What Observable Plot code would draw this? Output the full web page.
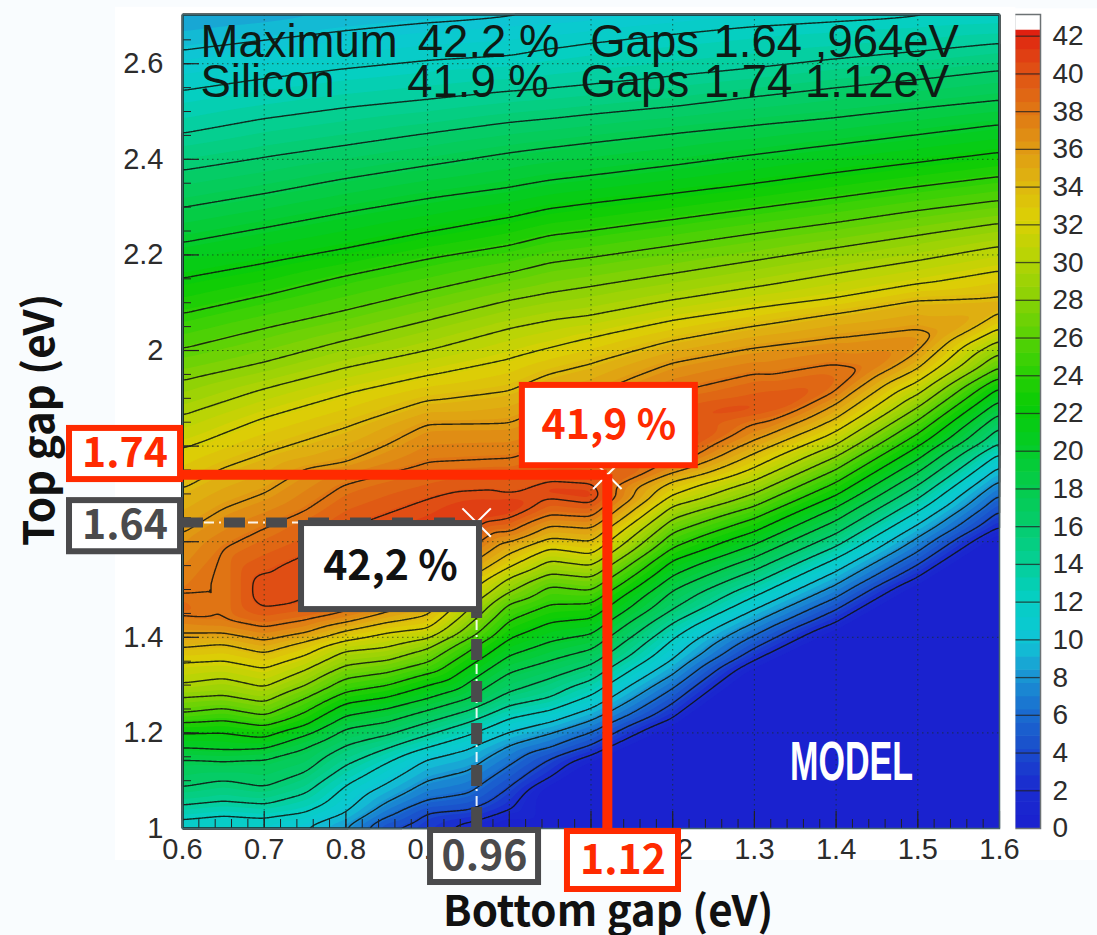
<!DOCTYPE html>
<html><head><meta charset="utf-8">
<script src="https://cdn.jsdelivr.net/npm/d3@7"></script>
<script src="https://cdn.jsdelivr.net/npm/@observablehq/plot@0.6"></script>
<style>
html,body{margin:0;padding:0;background:#f9fcfe;width:1097px;height:935px;overflow:hidden}
#chart{display:flex;width:1097px;height:935px}
svg{display:block;background:transparent!important;flex:none;overflow:visible}
svg:first-child{position:relative;z-index:1}
</style></head><body><div id="chart"></div>
<script>
// Contour crossings: top gap (eV) where each efficiency level is met.
const riseLevels=[10,12,14,16,18,20,22,24,26,28,30,32,34,36,38,40];
const fallLevels=[2,4,6,8,10,12,14,16,18,20,22,24,26,28,30,32,34,36,38,40];
const n=null;
const columnsX=[0.6,0.65,0.7,0.75,0.8,0.85,0.9,0.95,1.0,1.05,1.1,1.2,1.3,1.4,1.5,1.6];
const rise060=[2.628,2.544,2.454,2.377,2.299,2.226,2.151,2.077,2.004,1.937,1.864,1.795,1.711,1.617,1.487];
const rise065=[n,n,n,n,n,n,n,n,n,n,n,n,1.755,1.669,1.586];
const rise070=[2.649,2.569,2.485,2.404,2.328,2.257,2.182,2.115,2.046,1.975,1.920,1.860,1.785,1.701,1.628,1.536];
const rise075=[];
const rise080=[2.669,2.590,2.508,2.429,2.360,2.289,2.213,2.157,2.084,2.021,1.964,1.910,1.839,1.766,1.722,1.628];
const rise085=[];
const rise090=[2.686,2.607,2.525,2.454,2.387,2.318,2.247,2.192,2.125,2.063,2.000,1.948,1.895,1.847,1.766,1.690];
const rise095=[];
const rise100=[2.697,2.617,2.542,2.477,2.414,2.341,2.278,2.220,2.163,2.105,2.046,1.983,1.916,1.849,1.774,1.700];
const rise105=[n,2.632,2.548,2.485,2.425,2.356,2.297,2.241,2.184,2.121,2.063,2.006,1.952,1.885,1.801,1.722];
const rise110=[n,2.644,2.556,2.494,2.435,2.366,2.308,2.251,2.195,2.134,2.073,2.027,1.973,1.906,1.800,1.717];
const rise120=[n,2.663,2.573,2.510,2.454,2.387,2.328,2.274,2.220,2.161,2.105,2.063,2.021,1.975,1.912,1.849];
const rise130=[n,2.680,2.590,2.531,2.471,2.410,2.349,2.297,2.245,2.188,2.132,2.088,2.052,2.006,1.952,1.883];
const rise140=[n,2.690,2.609,2.550,2.487,2.431,2.372,2.320,2.268,2.215,2.161,2.109,2.079,2.027,1.973];
const rise150=[n,2.697,2.625,2.567,2.506,2.452,2.393,2.343,2.293,2.241,2.188,2.138,2.107,2.046];
const rise160=[n,n,2.642,2.586,2.523,2.473,2.414,2.364,2.314,2.266,2.218,2.167,2.113];
const fall060=[n,n,n,n,n,1.021,1.048,1.086,1.146,1.167,1.199,1.222,1.241,1.274,1.303,1.347,1.379,1.408,1.446];
const fall065=[n,n,n,n,n,1.029,1.056,1.100,1.142,1.163,1.201,1.226,1.251,1.278,1.314,1.351,1.387,1.408,1.437];
const fall070=[n,n,n,n,n,1.023,1.050,1.086,1.146,1.167,1.190,1.215,1.236,1.264,1.295,1.335,1.368,1.393,1.420,1.460];
const fall075=[n,n,n,n,1.002,1.033,1.073,1.117,1.169,1.195,1.215,1.243,1.272,1.299,1.331,1.362,1.393,1.408,1.435,1.471];
const fall080=[n,n,n,1.002,1.033,1.090,1.132,1.174,1.209,1.236,1.262,1.285,1.314,1.341,1.372,1.393,1.414,1.431,1.452,1.515];
const fall085=[n,1.002,1.023,1.054,1.094,1.138,1.167,1.195,1.222,1.251,1.274,1.299,1.326,1.351,1.379,1.410,1.431,1.452,1.481,1.540];
const fall090=[n,1.033,1.059,1.100,1.146,1.169,1.195,1.222,1.247,1.272,1.299,1.324,1.347,1.377,1.397,1.418,1.446,1.483,1.523,1.556];
const fall095=[1.013,1.038,1.073,1.121,1.167,1.195,1.222,1.247,1.272];
const fall100=[1.038,1.086,1.132,1.174,1.201,1.230,1.257,1.285,1.326,1.362,1.397,1.435,1.471,1.494,1.525,1.546,1.575,1.600,1.619,1.649];
const fall105=[1.105,1.146,1.169,1.199,1.222,1.247,1.274,1.314,1.351,1.391,1.431,1.469,1.508,1.533,1.561,1.586,1.607,1.634,1.655,1.692];
const fall110=[1.153,1.174,1.201,1.226,1.251,1.278,1.310,1.343,1.374,1.406,1.439,1.471,1.498,1.525,1.550,1.573,1.600,1.628,1.651,1.680];
const fall120=[1.230,1.262,1.293,1.322,1.354,1.396,1.430,1.458,1.498,1.529,1.561,1.587,1.619,1.648,1.675,1.697,1.728,1.743,1.766,1.780];
const fall130=[1.351,1.377,1.404,1.431,1.458,1.485,1.513,1.540,1.567,1.594,1.621,1.649,1.674,1.701,1.728,1.755,1.785,1.812,1.847,1.877];
const fall140=[1.431,1.458,1.483,1.510,1.538,1.565,1.590,1.617,1.644,1.672,1.697,1.724,1.751,1.778,1.803,1.831,1.858,1.889,1.912];
const fall150=[1.525,1.552,1.579,1.609,1.636,1.663,1.690,1.718,1.745,1.772,1.799,1.826,1.854,1.881,1.908,1.935,1.962,1.996];
const fall160=[1.630,1.665,1.699,1.728,1.757,1.785,1.805,1.839,1.868,1.895,1.923,1.943,1.964,1.994,2.021,2.046,2.079];
const riseTable=[rise060,rise065,rise070,rise075,rise080,rise085,rise090,rise095,rise100,rise105,rise110,rise120,rise130,rise140,rise150,rise160];
const fallTable=[fall060,fall065,fall070,fall075,fall080,fall085,fall090,fall095,fall100,fall105,fall110,fall120,fall130,fall140,fall150,fall160];
// Ridge crest, contour tips, frame edges and the zero plateau
const ridgeX=[0.6,0.7,0.8,0.9,0.964,1.0,1.05,1.1,1.2,1.3,1.34,1.4,1.437,1.5,1.524,1.6];
const ridgeY=[1.467,1.498,1.571,1.613,1.66,1.675,1.707,1.70,1.812,1.88,1.893,1.94,1.964,2.02,2.035,2.095];
const ridgeV=[39.2,40.8,40.8,41.3,41.5,41.6,41.3,41.3,41.3,40.6,40,38.6,38,36.6,36,34.7];
const edgeX=[0.6,0.7,0.8,0.9,1.0,1.1,1.2,1.3,1.4,1.5,1.6];
const topEdgeV=[8.3,8.7,9.2,9.5,9.8,10.1,10.6,11,11.4,11.8,12];
const bottomX=[0.6,0.65,0.7,0.75,0.8,0.85,0.9,0.95,0.98,1.05,1.1,1.2,1.3,1.4,1.5,1.6];
const bottomV=[11.2,11,11,9.8,7.8,3.9,2.8,1,0,0,0,0,0,0,0,0];
const plateauX=[1.0,1.05,1.1,1.2,1.3,1.4,1.5,1.6];
const plateauY=[1.015,1.085,1.133,1.21,1.33,1.41,1.505,1.61];
// Colour bar
const colorStops=[0,2,4,6,8,9,10,12,14,16,18,20,22,24,26,28,30,32,34,36,38,40,42];
const colorHex=["#1a22cf","#1a2dcf","#1a50cc","#1a70d0","#1a9cd4","#14b8d4","#0cc8d4","#05cfc0","#05cf90","#05cc68","#05cc48","#05cc25","#08cc05","#30d005","#60d205","#90d205","#b8d405","#dcd005","#dfb410","#e09414","#e07014","#e04c14","#e02010"];
const barSteps=d3.range(0,42.2,0.7);
const fillSteps=[-9].concat(barSteps.slice(1));
const lineLevels=d3.range(2,42,2);
const barLines=d3.range(2,44,2);
const barTicks=d3.range(0,44,2);
// Axes
const xTicks=[0.6,0.7,0.8,0.9,1.0,1.1,1.2,1.3,1.4,1.5,1.6];
const yTicks=[1,1.2,1.4,1.6,1.8,2,2.2,2.4,2.6];
const xMinor=d3.range(0.6,1.6,0.02);
const yMinor=d3.range(1,2.7,0.05);
// Annotations (eV)
const silicon={x:1.12,y:1.74,pct:"41,9 %"};
const maximum={x:0.96,y:1.64,pct:"42,2 %"};
const header=[
 {x:0.622,y:2.644,t:"Maximum"},{x:0.888,y:2.644,t:"42.2 %"},{x:1.099,y:2.644,t:"Gaps"},{x:1.25,y:2.644,t:"1.64 ,964eV"},
 {x:0.622,y:2.561,t:"Silicon"},{x:0.875,y:2.561,t:"41.9 %"},{x:1.087,y:2.561,t:"Gaps"},{x:1.238,y:2.561,t:"1.74 1.12eV"}];
const red="#ff2a00", grey="#4a4a4c";
const boxes=[
 {x1:0.4617,x2:0.5976,y1:1.730,y2:1.837,c:red,t:"1.74",tc:red},
 {x1:0.4617,x2:0.5976,y1:1.579,y2:1.686,c:grey,t:"1.64",tc:grey},
 {x1:0.7457,x2:0.9635,y1:1.458,y2:1.638,c:grey,t:maximum.pct,tc:"#111"},
 {x1:1.016,x2:1.2277,y1:1.759,y2:1.927,c:red,t:silicon.pct,tc:red},
 {x1:0.9036,x2:1.0358,y1:0.887,y2:0.9958,c:grey,t:"0.96",tc:grey},
 {x1:1.0712,x2:1.2071,y1:0.8724,y2:0.9937,c:red,t:"1.12",tc:red}];
const cjk='"Noto Sans CJK JP","Noto Sans",sans-serif';

const samples=[];
columnsX.forEach((x,i)=>{
  riseTable[i].forEach((y,j)=>{if(y!=null)samples.push({x,y,v:riseLevels[j]})});
  fallTable[i].forEach((y,j)=>{if(y!=null)samples.push({x,y,v:fallLevels[j]})});
});
ridgeX.forEach((x,i)=>samples.push({x,y:ridgeY[i],v:ridgeV[i]}));
edgeX.forEach((x,i)=>samples.push({x,y:2.703,v:topEdgeV[i]}));
bottomX.forEach((x,i)=>samples.push({x,y:1,v:bottomV[i]}));
plateauX.forEach((x,i)=>samples.push({x,y:plateauY[i],v:0}));
const color={type:"linear",domain:colorStops,range:colorHex,interpolate:"rgb",clamp:true};

const main=Plot.plot({
  width:1008,height:935,marginLeft:182,marginRight:9,marginTop:14,marginBottom:107,
  style:{background:"transparent",fontFamily:'"Liberation Sans",sans-serif'},
  x:{domain:[0.6,1.6],axis:null},y:{domain:[1,2.703],axis:null},color,
  marks:[
    Plot.rect([0],{x1:0.518,x2:1.62,y1:0.933,y2:2.718,fill:"#ffffff"}),
    Plot.contour(samples,{x:"x",y:"y",fill:"v",thresholds:fillSteps,interpolate:"barycentric",pixelSize:1,blur:4,stroke:"none"}),
    Plot.ruleX(xTicks.slice(1,-1),{stroke:"#16321a",strokeOpacity:.7,strokeDasharray:"1.5,3.5"}),
    Plot.ruleY(yTicks.slice(1),{stroke:"#16321a",strokeOpacity:.7,strokeDasharray:"1.5,3.5"}),
    Plot.contour(samples,{x:"x",y:"y",value:"v",thresholds:lineLevels,interpolate:"barycentric",pixelSize:1,blur:4,stroke:"#101510",strokeWidth:1.4,fill:"none",strokeOpacity:.88}),
    Plot.ruleX(xMinor,{y1:1,y2:1+9/478,stroke:"#222",strokeWidth:1}),
    Plot.ruleX(xTicks,{y1:1,y2:1+17/478,stroke:"#222",strokeWidth:1.2}),
    Plot.ruleY(yMinor,{x1:0.6,x2:0.6+9/817,stroke:"#222",strokeWidth:1}),
    Plot.ruleY(yTicks,{x1:0.6,x2:0.6+17/817,stroke:"#222",strokeWidth:1.2}),
    Plot.frame({stroke:"#46666c",strokeWidth:1.5}),
    Plot.text(xTicks,{x:d=>d,y:1,text:d=>d3.format(".1f")(d),dy:21,fontSize:29,fill:"#2c2c2c"}),
    Plot.text(yTicks,{x:0.6,y:d=>d,text:d=>d%1===0?String(d):d3.format(".1f")(d),dx:-19,textAnchor:"end",fontSize:29,fill:"#2c2c2c"}),
    Plot.text(header,{x:"x",y:"y",text:"t",textAnchor:"start",fontSize:45.5,fill:"#0e1a14",fontFamily:'"Liberation Sans",sans-serif'}),
    Plot.text(["MODEL"],{x:1.419,y:1.138,fontSize:56,fontWeight:700,fill:"#fff",fontFamily:'"Liberation Sans Narrow","Liberation Sans",sans-serif'}),
    // guide lines
    Plot.dot([silicon,maximum],{x:"x",y:"y",symbol:"times",r:13,stroke:"#fff",strokeWidth:2}),
    Plot.ruleY([maximum.y],{x1:0.6,x2:maximum.x,stroke:"#fff",strokeWidth:2,strokeDasharray:"10,5,2,5",strokeOpacity:.9}),
    Plot.ruleX([maximum.x],{y1:1,y2:maximum.y,stroke:"#fff",strokeWidth:2,strokeDasharray:"10,5,2,5",strokeOpacity:.9}),
    Plot.ruleY([maximum.y],{x1:0.6,x2:maximum.x,stroke:grey,strokeWidth:10,strokeDasharray:"21,21"}),
    Plot.ruleX([maximum.x],{y1:1,y2:maximum.y,stroke:grey,strokeWidth:11,strokeDasharray:"21,21"}),
    Plot.ruleY([silicon.y],{x1:0.6,x2:silicon.x,stroke:red,strokeWidth:10}),
    Plot.ruleX([silicon.x],{y1:1,y2:silicon.y,stroke:red,strokeWidth:10}),
    Plot.rect(boxes,{x1:"x1",x2:"x2",y1:"y1",y2:"y2",fill:"#fff",stroke:"c",strokeWidth:6}),
    Plot.text(boxes,{x:d=>(d.x1+d.x2)/2,y:d=>(d.y1+d.y2)/2,text:"t",fill:"tc",fontSize:41,fontWeight:700,fontFamily:cjk}),
    Plot.text(["Bottom gap (eV)"],{x:1.121,y:0.824,fontSize:42,fontWeight:700,fill:"#111",fontFamily:cjk}),
    Plot.text(["Top gap (eV)"],{x:0.6-142/817,y:1.855,rotate:-90,fontSize:42,fontWeight:700,fill:"#111",fontFamily:cjk})
  ]
});
d3.select(main).selectAll("text").filter(function(){return this.textContent==="MODEL"}).attr("textLength",123).attr("lengthAdjust","spacingAndGlyphs");

const bands=barSteps.map((v,i)=>({v,v2:i+1<barSteps.length?barSteps[i+1]:42.3}));
const bar=Plot.plot({
  width:89,height:935,marginLeft:6,marginRight:57,marginTop:14,marginBottom:107,
  style:{background:"transparent",fontFamily:'"Liberation Sans",sans-serif'},
  x:{domain:[0,1],axis:null},y:{domain:[0,43.15],axis:null},color,
  marks:[
    Plot.rect([0],{x1:-0.24,x2:3.2,y1:-1.7,y2:43.45,fill:"#fff"}),
    Plot.rect(bands,{x1:0,x2:1,y1:"v",y2:"v2",fill:"v",inset:-0.3}),
    Plot.ruleY(barLines,{x1:0,x2:1,stroke:"#222",strokeOpacity:.75,strokeWidth:1.3}),
    Plot.frame({stroke:"#6c7274",strokeWidth:1.5}),
    Plot.text(barTicks,{x:1,y:d=>d,text:d=>String(d),dx:12,textAnchor:"start",fontSize:28,fill:"#2c2c2c"})
  ]
});
document.getElementById("chart").append(main,bar);
</script></body></html>
